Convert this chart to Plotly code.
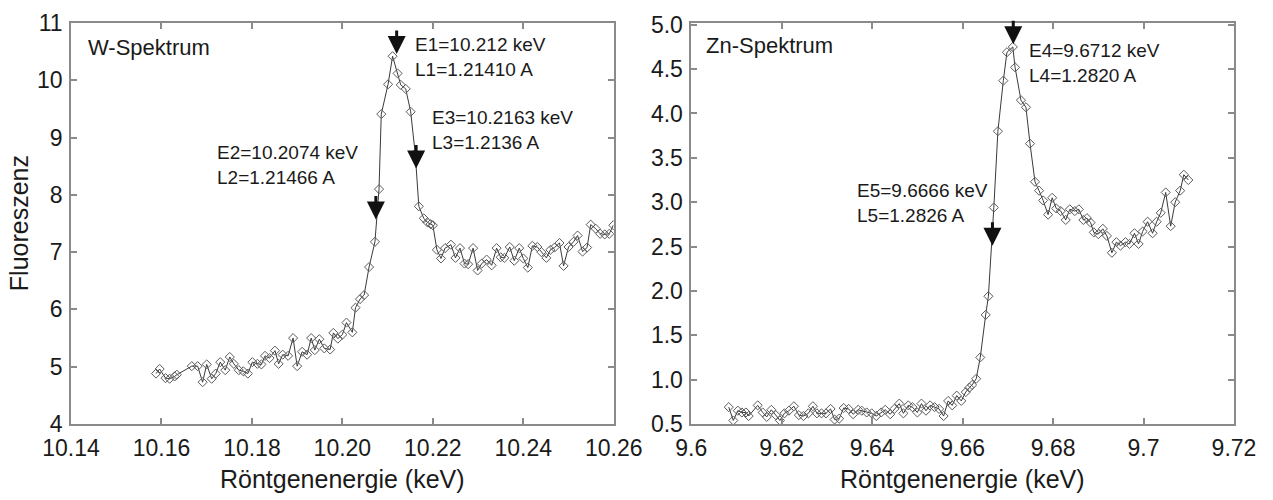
import plotly.graph_objects as go

# ---------------- data ----------------
w_energy = [10.1588, 10.1596, 10.1609, 10.1618, 10.1629, 10.1634, 10.1667, 10.1680, 10.1691, 10.1700,
            10.1711, 10.1720, 10.1730, 10.1741, 10.1751, 10.1760, 10.1771, 10.1781, 10.1791, 10.1801,
            10.1812, 10.1821, 10.1829, 10.1839, 10.1851, 10.1859, 10.1868, 10.1880, 10.1891, 10.1900,
            10.1911, 10.1922, 10.1931, 10.1939, 10.1949, 10.1960, 10.1973, 10.1980, 10.1990, 10.2000,
            10.2009, 10.2022, 10.2029, 10.2039, 10.2048, 10.2059, 10.2072, 10.2081, 10.2086, 10.2101,
            10.2111, 10.2122, 10.2129, 10.2140, 10.2151, 10.2161, 10.2169, 10.2180, 10.2188, 10.2195,
            10.2200, 10.2209, 10.2218, 10.2227, 10.2240, 10.2250, 10.2260, 10.2270, 10.2278, 10.2289,
            10.2299, 10.2308, 10.2319, 10.2330, 10.2341, 10.2350, 10.2358, 10.2370, 10.2380, 10.2391,
            10.2400, 10.2410, 10.2420, 10.2431, 10.2440, 10.2451, 10.2460, 10.2469, 10.2480, 10.2489,
            10.2500, 10.2511, 10.2520, 10.2531, 10.2541, 10.2549, 10.2560, 10.2570, 10.2580, 10.2590,
            10.2599]
w_fluor = [4.88, 4.96, 4.80, 4.79, 4.83, 4.86, 5.01, 5.01, 4.73, 5.04,
           4.79, 4.88, 5.08, 4.94, 5.17, 5.05, 4.94, 4.92, 4.88, 5.08,
           5.05, 5.04, 5.19, 5.15, 5.28, 5.05, 5.21, 5.19, 5.50, 5.01,
           5.26, 5.21, 5.50, 5.29, 5.48, 5.32, 5.30, 5.59, 5.49, 5.56,
           5.77, 5.60, 6.03, 6.18, 6.25, 6.74, 7.18, 8.10, 9.41, 9.93,
           10.42, 10.12, 9.92, 9.85, 9.45, 8.72, 7.80, 7.59, 7.52, 7.49,
           7.47, 7.04, 6.89, 7.07, 7.13, 6.90, 7.07, 6.80, 6.79, 7.07,
           6.68, 6.80, 6.87, 6.77, 7.07, 6.91, 6.90, 7.09, 6.85, 7.07,
           6.89, 6.73, 7.11, 7.09, 7.00, 6.90, 7.04, 7.08, 7.16, 6.76,
           7.09, 7.18, 7.29, 7.01, 7.08, 7.48, 7.41, 7.32, 7.31, 7.32,
           7.47]

zn_energy = [9.6083, 9.6093, 9.6103, 9.6112, 9.6121, 9.6127, 9.6147, 9.6158, 9.6167, 9.6177,
             9.6187, 9.6196, 9.6206, 9.6216, 9.6227, 9.6238, 9.6248, 9.6259, 9.6269, 9.6278,
             9.6288, 9.6298, 9.6308, 9.6317, 9.6327, 9.6337, 9.6348, 9.6358, 9.6369, 9.6377,
             9.6388, 9.6399, 9.6409, 9.6420, 9.6429, 9.6440, 9.6449, 9.6460, 9.6469, 9.6480,
             9.6489, 9.6500, 9.6509, 9.6519, 9.6528, 9.6538, 9.6548, 9.6558, 9.6568, 9.6577,
             9.6587, 9.6597, 9.6607, 9.6615, 9.6621, 9.6630, 9.6639, 9.6651, 9.6657, 9.6669,
             9.6678, 9.6690, 9.6698, 9.6711, 9.6716, 9.6729, 9.6740, 9.6749, 9.6760, 9.6769,
             9.6778, 9.6789, 9.6798, 9.6807, 9.6817, 9.6828, 9.6837, 9.6848, 9.6857, 9.6867,
             9.6875, 9.6883, 9.6890, 9.6900, 9.6910, 9.6919, 9.6930, 9.6940, 9.6949, 9.6960,
             9.6969, 9.6980, 9.6989, 9.6998, 9.7009, 9.7020, 9.7029, 9.7038, 9.7049, 9.7060,
             9.7070, 9.7081, 9.7089, 9.7099]
zn_fluor = [0.69, 0.54, 0.65, 0.63, 0.63, 0.59, 0.71, 0.63, 0.58, 0.66,
            0.60, 0.54, 0.62, 0.65, 0.70, 0.60, 0.59, 0.62, 0.70, 0.62,
            0.62, 0.62, 0.67, 0.55, 0.56, 0.68, 0.67, 0.61, 0.66, 0.65,
            0.63, 0.62, 0.59, 0.63, 0.66, 0.61, 0.67, 0.73, 0.62, 0.71,
            0.69, 0.63, 0.73, 0.65, 0.71, 0.69, 0.67, 0.59, 0.76, 0.71,
            0.82, 0.76, 0.86, 0.91, 0.94, 1.01, 1.25, 1.73, 1.94, 2.94,
            3.80, 4.37, 4.69, 4.75, 4.52, 4.15, 4.07, 3.66, 3.23, 3.13,
            3.02, 2.86, 3.05, 2.93, 2.90, 2.80, 2.92, 2.90, 2.92, 2.80,
            2.82, 2.77, 2.66, 2.64, 2.70, 2.62, 2.43, 2.55, 2.51, 2.55,
            2.53, 2.65, 2.53, 2.67, 2.78, 2.65, 2.78, 2.88, 3.11, 2.73,
            3.00, 3.13, 3.31, 3.25]

# marked energies (arrow tips) and their labels
w_marks_e = [10.212, 10.2074, 10.2163]
w_marks_y = [10.46, 7.57, 8.46]
w_labels = ["E1=10.212 keV<br>L1=1.21410 A",
            "E2=10.2074 keV<br>L2=1.21466 A",
            "E3=10.2163 keV<br>L3=1.2136 A"]
w_label_pos = [(10.2156, 10.41), (10.1718, 8.52), (10.2193, 9.14)]

zn_marks_e = [9.6712, 9.6666]
zn_marks_y = [4.78, 2.51]
zn_labels = ["E4=9.6712 keV<br>L4=1.2820 A",
             "E5=9.6666 keV<br>L5=1.2826 A"]
zn_label_pos = [(9.6742, 4.57), (9.6363, 2.99)]

w_xticks = [10.14, 10.16, 10.18, 10.20, 10.22, 10.24, 10.26]
w_yticks = [4, 5, 6, 7, 8, 9, 10, 11]
zn_xticks = [9.6, 9.62, 9.64, 9.66, 9.68, 9.7, 9.72]
zn_xlabels = ["9.6", "9.62", "9.64", "9.66", "9.68", "9.7", "9.72"]
zn_yticks = [0.5, 1.0, 1.5, 2.0, 2.5, 3.0, 3.5, 4.0, 4.5, 5.0]

# ---------------- figure ----------------
FONT = "Liberation Sans, Arial, sans-serif"
TXT = "#1a1a1a"

fig = go.Figure()

line_style = dict(color="#3a3a3a", width=1)
marker_style = dict(symbol="diamond-open", size=7, color="#5a5a5a", line=dict(width=1))

fig.add_trace(go.Scatter(x=w_energy, y=w_fluor, mode="lines+markers",
                         line=line_style, marker=marker_style,
                         xaxis="x", yaxis="y", showlegend=False))
fig.add_trace(go.Scatter(x=zn_energy, y=zn_fluor, mode="lines+markers",
                         line=line_style, marker=marker_style,
                         xaxis="x2", yaxis="y2", showlegend=False))

axis_common = dict(showline=True, linecolor="#8a8a8a", linewidth=1.5, mirror="ticks",
                   ticks="inside", ticklen=6, tickcolor="#8a8a8a", tickwidth=1.5,
                   showgrid=False, zeroline=False,
                   tickfont=dict(family=FONT, size=23, color=TXT))

fig.update_layout(
    width=1273, height=500,
    margin=dict(l=71, r=32, t=10, b=76),
    paper_bgcolor="white", plot_bgcolor="white",
    xaxis=dict(domain=[0, 0.4667], range=[10.14, 10.26], tickvals=w_xticks,
               tickformat=".2f", anchor="y", ticklabelstandoff=3, **axis_common),
    yaxis=dict(range=[4, 11], tickvals=w_yticks, anchor="x", ticklabelstandoff=2,
               **axis_common),
    xaxis2=dict(domain=[0.5333, 1], range=[9.6, 9.72], tickvals=zn_xticks,
                ticktext=zn_xlabels, anchor="y2", ticklabelstandoff=3, **axis_common),
    yaxis2=dict(range=[0.5, 5.02], tickvals=zn_yticks, tickformat=".1f",
                anchor="x2", ticklabelstandoff=2, **axis_common),
)

annotations = []
# arrows
for e, y in zip(w_marks_e, w_marks_y):
    annotations.append(dict(x=e, y=y, xref="x", yref="y", text="", showarrow=True,
                            ax=0, ay=-25, arrowhead=2, arrowsize=1.2, arrowwidth=3,
                            arrowcolor="#111111"))
for e, y in zip(zn_marks_e, zn_marks_y):
    annotations.append(dict(x=e, y=y, xref="x2", yref="y2", text="", showarrow=True,
                            ax=0, ay=-25, arrowhead=2, arrowsize=1.2, arrowwidth=3,
                            arrowcolor="#111111"))
# peak labels
for (px, py), t in zip(w_label_pos, w_labels):
    annotations.append(dict(x=px, y=py, xref="x", yref="y", text=t, showarrow=False,
                            xanchor="left", yanchor="middle", align="left",
                            font=dict(family=FONT, size=19, color=TXT)))
for (px, py), t in zip(zn_label_pos, zn_labels):
    annotations.append(dict(x=px, y=py, xref="x2", yref="y2", text=t, showarrow=False,
                            xanchor="left", yanchor="middle", align="left",
                            font=dict(family=FONT, size=19, color=TXT)))
# panel titles
annotations.append(dict(x=10.1434, y=10.58, xref="x", yref="y", text="W-Spektrum",
                        showarrow=False, xanchor="left", yanchor="middle",
                        font=dict(family=FONT, size=22, color=TXT)))
annotations.append(dict(x=9.6029, y=4.77, xref="x2", yref="y2", text="Zn-Spektrum",
                        showarrow=False, xanchor="left", yanchor="middle",
                        font=dict(family=FONT, size=22, color=TXT)))
# axis titles
annotations.append(dict(x=-0.045, y=0.5, xref="paper", yref="paper", text="Fluoreszenz",
                        textangle=-90, showarrow=False, xanchor="center", yanchor="middle",
                        font=dict(family=FONT, size=25, color=TXT)))
for xr in ["x domain", "x2 domain"]:
    annotations.append(dict(x=0.5, y=-0.136, xref=xr, yref="paper",
                            text="Röntgenenergie (keV)", showarrow=False,
                            xanchor="center", yanchor="middle",
                            font=dict(family=FONT, size=25, color=TXT)))

fig.update_layout(annotations=annotations)

fig.write_html("out.html")
